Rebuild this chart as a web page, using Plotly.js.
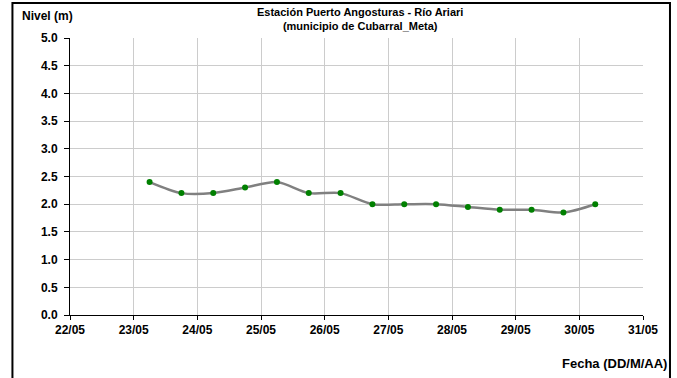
<!DOCTYPE html>
<html>
<head>
<meta charset="utf-8">
<script src="https://cdn.plot.ly/plotly-3.0.1.min.js"></script>
<style>html,body{margin:0;padding:0;background:#fff;}#chart{width:677px;height:378px;}</style>
</head>
<body>
<div id="chart"></div>
<script>
var fechas = ['2019-05-23 06:00','2019-05-23 18:00','2019-05-24 06:00','2019-05-24 18:00','2019-05-25 06:00','2019-05-25 18:00','2019-05-26 06:00','2019-05-26 18:00','2019-05-27 06:00','2019-05-27 18:00','2019-05-28 06:00','2019-05-28 18:00','2019-05-29 06:00','2019-05-29 18:00','2019-05-30 06:00'];
var nivel = [2.4, 2.2, 2.2, 2.3, 2.4, 2.2, 2.2, 2.0, 2.0, 2.0, 1.95, 1.9, 1.9, 1.85, 2.0];
var xTickVals = ['2019-05-22','2019-05-23','2019-05-24','2019-05-25','2019-05-26','2019-05-27','2019-05-28','2019-05-29','2019-05-30','2019-05-31'];
var xTickText = ['22/05','23/05','24/05','25/05','26/05','27/05','28/05','29/05','30/05','31/05'];
var yTickVals = [0, 0.5, 1, 1.5, 2, 2.5, 3, 3.5, 4, 4.5, 5];
var yTickText = ['0.0','0.5','1.0','1.5','2.0','2.5','3.0','3.5','4.0','4.5','5.0'];
var tituloLineas = ['Estación Puerto Angosturas - Río Ariari', '(municipio de Cubarral_Meta)'];
var tituloY = 'Nivel (m)';
var tituloX = 'Fecha (DD/M/AA)';

var fam = 'Liberation Sans, Arial, sans-serif';
function b(s) { return '<b>' + s + '</b>'; }

var trace = {
  x: fechas, y: nivel, type: 'scatter', mode: 'lines+markers',
  line: {color: '#808080', width: 2.5, shape: 'spline', smoothing: 0.8},
  marker: {color: '#008000', size: 6},
  hoverinfo: 'skip'
};

var layout = {
  width: 677, height: 378,
  margin: {l: 69.6, r: 34, t: 38, b: 63, pad: 0},
  paper_bgcolor: '#fff', plot_bgcolor: '#fff',
  showlegend: false,
  font: {family: fam, size: 12, color: '#000'},
  xaxis: {
    type: 'date', range: ['2019-05-22', '2019-05-31'],
    tickmode: 'array', tickvals: xTickVals, ticktext: xTickText.map(b),
    showgrid: true, gridcolor: '#cccccc', gridwidth: 1,
    showline: true, linecolor: '#000', linewidth: 1,
    ticks: 'outside', ticklen: 4, tickcolor: '#000',
    tickfont: {family: fam, size: 12, color: '#000', weight: 700},
    zeroline: false, fixedrange: true
  },
  yaxis: {
    range: [0, 5], tickmode: 'array', tickvals: yTickVals, ticktext: yTickText.map(b),
    showgrid: true, gridcolor: '#cccccc', gridwidth: 1,
    showline: true, linecolor: '#000', linewidth: 1,
    ticks: 'outside', ticklen: 5, tickcolor: '#000', ticklabelstandoff: 4,
    tickfont: {family: fam, size: 12, color: '#000', weight: 700},
    zeroline: false, fixedrange: true
  },
  annotations: [
    {text: b(tituloLineas[0]) + '<br>' + b(tituloLineas[1]),
     xref: 'paper', yref: 'paper', x: 0.506, y: (315 - 4) / 277,
     xanchor: 'center', yanchor: 'top', showarrow: false,
     font: {family: fam, size: 11, color: '#000'}},
    {text: b(tituloY), xref: 'paper', yref: 'paper',
     x: (20 - 69.6) / 573.4, y: (315 - 16) / 277, xanchor: 'left', yanchor: 'middle',
     showarrow: false, font: {family: fam, size: 12, color: '#000'}},
    {text: b(tituloX), xref: 'paper', yref: 'paper',
     x: (669 - 69.6) / 573.4, y: (315 - 363) / 277, xanchor: 'right', yanchor: 'middle',
     showarrow: false, font: {family: fam, size: 13, color: '#000'}}
  ],
  shapes: [
    {type: 'rect', xref: 'paper', yref: 'paper', layer: 'above',
     x0: (12 - 69.6) / 573.4, x1: (670 - 69.6) / 573.4,
     y0: (315 - 400) / 277, y1: (315 - 3) / 277,
     line: {color: '#000', width: 2}, fillcolor: 'rgba(0,0,0,0)'}
  ]
};

Plotly.newPlot('chart', [trace], layout, {displayModeBar: false, staticPlot: true});
</script>
</body>
</html>
